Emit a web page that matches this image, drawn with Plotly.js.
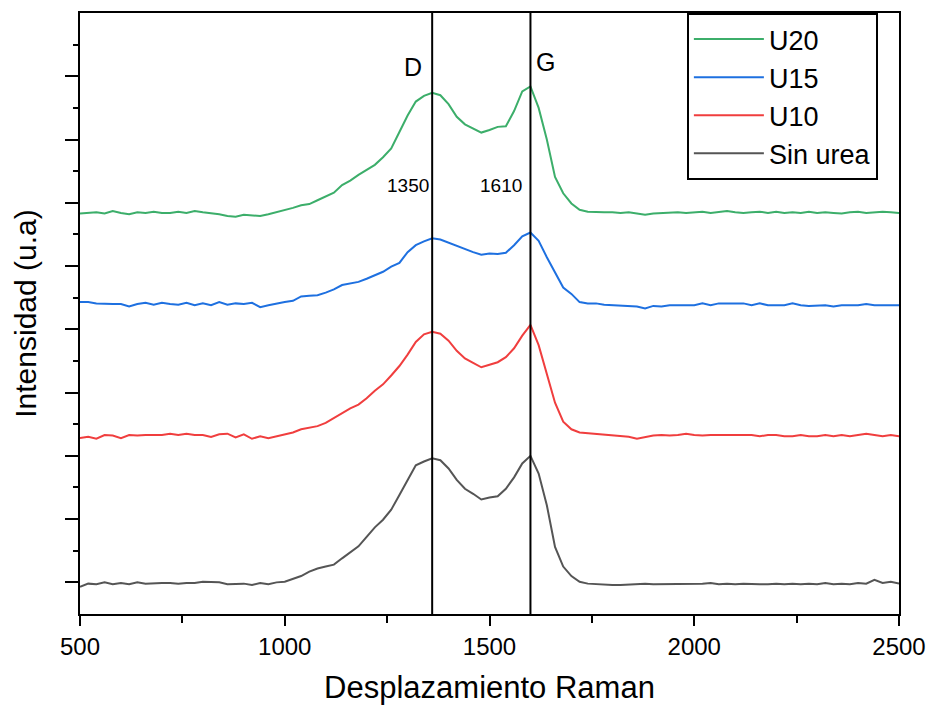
<!DOCTYPE html>
<html>
<head>
<meta charset="utf-8">
<script src="https://cdn.plot.ly/plotly-3.0.1.min.js"></script>
<style>html,body{margin:0;padding:0;background:#fff;}#chart{width:927px;height:705px;}</style>
</head>
<body>
<div id="chart"></div>
<script>
const ramanShift = [500,520,540,560,580,600,620,640,660,680,700,720,740,760,780,800,820,840,860,880,900,920,940,960,980,1000,1020,1040,1060,1080,1100,1120,1140,1160,1180,1200,1220,1240,1260,1280,1300,1320,1340,1360,1380,1400,1420,1440,1460,1480,1500,1520,1540,1560,1580,1600,1620,1640,1660,1680,1700,1720,1740,1760,1780,1800,1820,1840,1860,1880,1900,1920,1940,1960,1980,2000,2020,2040,2060,2080,2100,2120,2140,2160,2180,2200,2220,2240,2260,2280,2300,2320,2340,2360,2380,2400,2420,2440,2460,2480,2500];

const u20 = [5.83,5.84,5.85,5.83,5.87,5.84,5.82,5.85,5.84,5.86,5.84,5.84,5.86,5.84,5.87,5.85,5.84,5.82,5.79,5.78,5.81,5.80,5.79,5.82,5.85,5.88,5.92,5.96,5.98,6.04,6.10,6.16,6.28,6.35,6.44,6.52,6.60,6.72,6.86,7.12,7.38,7.60,7.69,7.74,7.70,7.56,7.36,7.24,7.18,7.11,7.15,7.20,7.21,7.45,7.76,7.84,7.50,7.00,6.41,6.15,5.99,5.89,5.86,5.85,5.85,5.85,5.84,5.85,5.83,5.81,5.83,5.84,5.84,5.85,5.84,5.85,5.86,5.84,5.85,5.87,5.85,5.84,5.85,5.86,5.84,5.86,5.84,5.85,5.84,5.86,5.84,5.85,5.84,5.83,5.85,5.86,5.84,5.85,5.86,5.85,5.84];

const u15 = [4.43,4.43,4.41,4.40,4.40,4.40,4.36,4.40,4.42,4.39,4.42,4.40,4.39,4.42,4.38,4.41,4.38,4.43,4.39,4.41,4.40,4.42,4.35,4.38,4.41,4.43,4.45,4.52,4.53,4.54,4.58,4.63,4.70,4.73,4.75,4.80,4.86,4.91,4.99,5.05,5.22,5.33,5.39,5.44,5.42,5.37,5.31,5.26,5.22,5.18,5.20,5.19,5.21,5.33,5.47,5.53,5.40,5.14,4.90,4.66,4.56,4.43,4.41,4.41,4.39,4.38,4.38,4.37,4.36,4.33,4.37,4.36,4.38,4.38,4.38,4.38,4.41,4.38,4.41,4.41,4.41,4.41,4.38,4.41,4.38,4.38,4.38,4.41,4.38,4.37,4.38,4.38,4.36,4.38,4.38,4.38,4.40,4.38,4.38,4.38,4.38];

const u10 = [2.28,2.30,2.27,2.33,2.32,2.28,2.33,2.32,2.33,2.33,2.33,2.35,2.33,2.35,2.33,2.33,2.30,2.34,2.35,2.29,2.34,2.27,2.31,2.28,2.31,2.33,2.37,2.42,2.44,2.47,2.52,2.60,2.68,2.75,2.81,2.91,3.03,3.13,3.27,3.42,3.60,3.80,3.92,3.96,3.93,3.82,3.66,3.54,3.47,3.40,3.44,3.48,3.56,3.70,3.90,4.07,3.75,3.28,2.84,2.54,2.42,2.37,2.36,2.34,2.34,2.33,2.31,2.30,2.27,2.30,2.32,2.33,2.32,2.33,2.35,2.33,2.32,2.33,2.33,2.33,2.33,2.33,2.33,2.31,2.33,2.33,2.31,2.31,2.33,2.31,2.31,2.33,2.31,2.33,2.31,2.33,2.35,2.33,2.31,2.33,2.31];

const sinUrea = [-0.07,-0.02,-0.03,0.00,-0.03,-0.01,-0.03,0.00,-0.02,-0.01,-0.01,-0.01,-0.02,-0.01,-0.01,0.01,0.01,0.00,-0.03,-0.03,-0.02,-0.04,-0.01,-0.03,0.00,0.01,0.06,0.10,0.17,0.22,0.25,0.28,0.38,0.47,0.57,0.72,0.87,0.99,1.15,1.38,1.62,1.85,1.91,1.96,1.93,1.80,1.62,1.48,1.40,1.31,1.34,1.36,1.48,1.66,1.88,2.00,1.72,1.22,0.56,0.25,0.10,0.01,-0.02,-0.03,-0.04,-0.04,-0.04,-0.03,-0.03,-0.02,-0.03,-0.03,-0.02,-0.02,-0.03,-0.02,-0.02,-0.01,-0.03,-0.02,-0.03,-0.02,-0.03,-0.03,-0.03,-0.02,-0.03,-0.02,-0.03,-0.02,-0.03,-0.01,-0.03,-0.02,-0.03,-0.01,-0.02,0.04,-0.01,0.01,-0.02];

const seriesNames = ["U20","U15","U10","Sin urea"];
const seriesColors = ["rgb(60,174,106)","rgb(30,112,224)","rgb(240,62,62)","rgb(85,85,85)"];
const seriesValues = [u20,u15,u10,sinUrea];

const bandPositions = [1360, 1600];
const bandLetters = ["D","G"];
const bandLetterX = [1312, 1636];
const bandLetterY = [8.15, 8.22];
const bandNumbers = ["1350","1610"];
const bandNumberX = [1300, 1528];

const FONT = '"Liberation Sans", Arial, sans-serif';

const traces = seriesNames.map((n,i)=>({
  x: ramanShift, y: seriesValues[i], name: n, type:'scatter', mode:'lines',
  line:{color:seriesColors[i], width:2}
}));

const shapes = bandPositions.map(b=>({
  type:'line', xref:'x', yref:'paper', x0:b, x1:b, y0:0, y1:1,
  line:{color:'black', width:2}
}));

const annotations = [];
bandLetters.forEach((t,i)=>annotations.push({x:bandLetterX[i], y:bandLetterY[i], xref:'x', yref:'y', text:t, showarrow:false, font:{family:FONT, size:25, color:'black'}}));
bandNumbers.forEach((t,i)=>annotations.push({x:bandNumberX[i], y:6.28, xref:'x', yref:'y', text:t, showarrow:false, font:{family:FONT, size:19, color:'black'}}));

const layout = {
  width:927, height:705,
  margin:{l:80, r:28, t:13, b:91},
  paper_bgcolor:'white', plot_bgcolor:'white',
  font:{family:FONT, color:'black'},
  showlegend:true,
  legend:{x:0.741, y:1.0, xanchor:'left', yanchor:'top', bgcolor:'white', bordercolor:'black', borderwidth:2,
          font:{family:FONT, size:27, color:'black'}, itemwidth:70, tracegroupgap:0},
  xaxis:{range:[500,2500], tickmode:'linear', tick0:500, dtick:500, ticks:'outside', ticklen:10, tickwidth:2, tickcolor:'black',
         showline:true, linewidth:2, linecolor:'black', mirror:true, showgrid:false, zeroline:false,
         tickfont:{family:FONT, size:24, color:'black'},
         minor:{dtick:250, tick0:500, ticks:'outside', ticklen:7, tickwidth:2, tickcolor:'black', showgrid:false},
         title:{text:'Desplazamiento Raman', font:{family:FONT, size:31, color:'black'}, standoff:20}},
  yaxis:{range:[-0.5,9], tickmode:'array', tickvals:[0,1,2,3,4,5,6,7,8], ticks:'outside', ticklen:13, tickwidth:2, tickcolor:'black',
         showticklabels:false, showline:true, linewidth:2, linecolor:'black', mirror:true, showgrid:false, zeroline:false,
         minor:{tickmode:'array', tickvals:[0.5,1.5,2.5,3.5,4.5,5.5,6.5,7.5,8.5], ticks:'outside', ticklen:5, tickwidth:2, tickcolor:'black', showgrid:false},
         title:{text:'Intensidad (u.a)', font:{family:FONT, size:30, color:'black'}, standoff:20}},
  shapes: shapes,
  annotations: annotations
};

Plotly.newPlot('chart', traces, layout, {displayModeBar:false, staticPlot:true});
</script>
</body>
</html>
